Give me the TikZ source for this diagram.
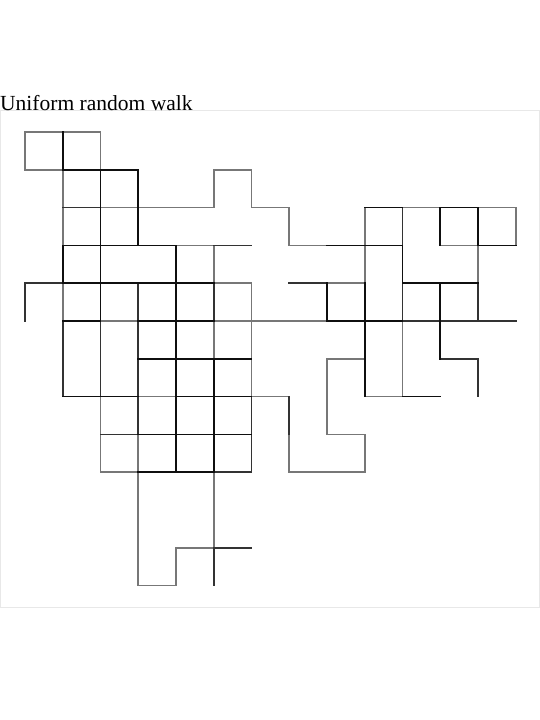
\documentclass[tikz,border=0pt]{standalone}
\usepackage{fontspec}
\setmainfont{Liberation Serif}
\definecolor{stepone}{HTML}{777777}
\definecolor{steptwo}{HTML}{333333}
\definecolor{stepmany}{HTML}{0F0F0F}
\definecolor{framegray}{HTML}{E8E8E8}

\begin{document}
\begin{tikzpicture}[x=1bp, y=-1bp, every node/.style={font=\fontsize{21.6}{25}\selectfont}, frame/.style={draw=framegray, line width=1bp}, walk/.style={line width=1.6bp, line cap=rect}, once/.style={walk, draw=stepone}, twice/.style={walk, draw=steptwo}, often/.style={walk, draw=stepmany}]
\useasboundingbox (0,0) rectangle (540,720);
\draw[frame] (0.5,111) rectangle (539.5,607.5);
\node[anchor=base west, inner sep=0] (title) at (0,111) {Uniform random walk};
\begin{scope}[shift={(25,132)}, x=37.75bp, y=-37.8bp]
\foreach \r/\c in {0/0,0/1,1/0,1/5,2/2,2/3,2/4,2/6,2/10,2/12,3/4,3/7,3/11,4/5,4/8,5/2,5/5,5/6,5/7,6/8,7/3,7/6,7/9,8/8,9/2,9/7,9/8,11/4,12/3}
  \draw[once] (\c,\r) -- ++(1,0);
\foreach \c/\r in {0/0,1/1,1/2,1/4,2/0,2/7,2/8,3/8,3/9,3/10,3/11,4/11,5/1,5/3,5/5,5/9,5/10,6/1,6/4,6/5,6/6,7/2,7/8,8/6,8/7,9/2,9/3,9/8,10/5,10/6,12/3,13/2}
  \draw[once] (\c,\r) -- ++(0,1);
\foreach \r/\c in {2/1,3/5,4/0,4/7,5/10,5/11,5/12,6/11,8/2,9/5,11/5}
  \draw[twice] (\c,\r) -- ++(1,0);
\foreach \c/\r in {0/4,1/5,1/6,2/5,2/6,3/4,3/5,3/6,3/7,5/4,5/11,6/7,6/8,7/7,10/2,10/4,12/4,12/6}
  \draw[twice] (\c,\r) -- ++(0,1);
\foreach \r/\c in {1/1,1/2,2/9,2/11,3/1,3/2,3/3,3/8,3/9,3/12,4/1,4/2,4/3,4/4,4/10,4/11,5/1,5/3,5/4,5/8,5/9,6/3,6/4,6/5,7/1,7/2,7/4,7/5,7/10,8/3,8/4,8/5,9/3,9/4}
  \draw[often] (\c,\r) -- ++(1,0);
\foreach \c/\r in {1/0,1/3,2/1,2/2,2/3,2/4,3/1,3/2,4/3,4/4,4/5,4/6,4/7,4/8,5/6,5/7,5/8,8/4,9/4,9/5,9/6,10/3,11/2,11/4,11/5,12/2}
  \draw[often] (\c,\r) -- ++(0,1);
\end{scope}
\end{tikzpicture}
\end{document}
